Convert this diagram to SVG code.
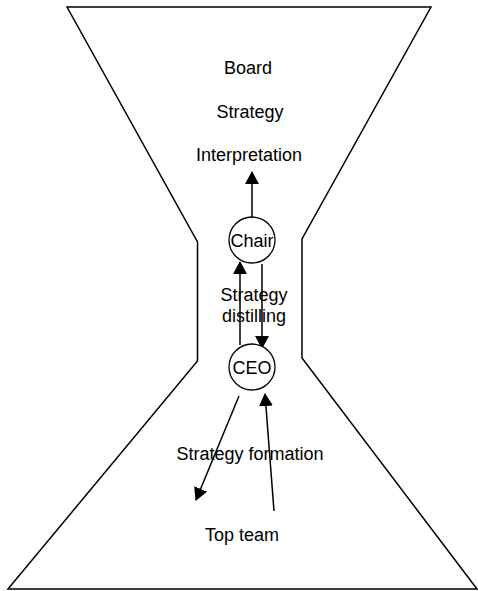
<svg xmlns="http://www.w3.org/2000/svg" width="478" height="591" viewBox="0 0 478 591">
  <style>
    .outline { fill: #ffffff; stroke: #000000; stroke-width: 1.5; stroke-linejoin: miter; }
    .node { fill: #ffffff; stroke: #000000; stroke-width: 1.3; }
    .edge { fill: none; stroke: #000000; stroke-width: 1.5; marker-end: url(#head); }
    text { font-family: "Liberation Sans", Arial, Helvetica, sans-serif; font-size: 18px; fill: #000000; text-anchor: middle; }
  </style>
  <defs>
    <marker id="head" viewBox="0 0 13 14" refX="12" refY="7" markerWidth="13" markerHeight="14" markerUnits="userSpaceOnUse" orient="auto">
      <path d="M0,0 L13,7 L0,14 Z" fill="#000000"/>
    </marker>
  </defs>

  <!-- hourglass outline -->
  <g id="hourglass">
    <path class="outline" d="M67,7 L431,7 L302,239 L302,358 L477,589 L8,589 L197.5,361 L197.5,242 Z"/>
  </g>

  <!-- free labels -->
  <g id="label-board"><text x="248" y="74">Board</text></g>
  <g id="label-strategy"><text x="250" y="118">Strategy</text></g>
  <g id="label-interpretation"><text x="249" y="161">Interpretation</text></g>
  <g id="label-distilling"><text x="254" y="301">Strategy</text><text x="254" y="322">distilling</text></g>
  <g id="label-formation"><text x="250" y="460">Strategy formation</text></g>
  <g id="label-topteam"><text x="242" y="541">Top team</text></g>

  <!-- connectors -->
  <g id="connectors">
    <line class="edge" x1="252" y1="217" x2="252" y2="172"/>
    <line class="edge" x1="240" y1="345" x2="240" y2="262"/>
    <line class="edge" x1="262" y1="264" x2="262" y2="348"/>
    <line class="edge" x1="239" y1="396" x2="196" y2="500"/>
    <line class="edge" x1="274" y1="511" x2="265" y2="394"/>
  </g>

  <!-- nodes -->
  <g id="chair">
    <circle class="node" cx="252" cy="240" r="23"/>
    <text x="252" y="247">Chair</text>
  </g>
  <g id="ceo">
    <circle class="node" cx="252" cy="367" r="23"/>
    <text x="252" y="374">CEO</text>
  </g>
</svg>
